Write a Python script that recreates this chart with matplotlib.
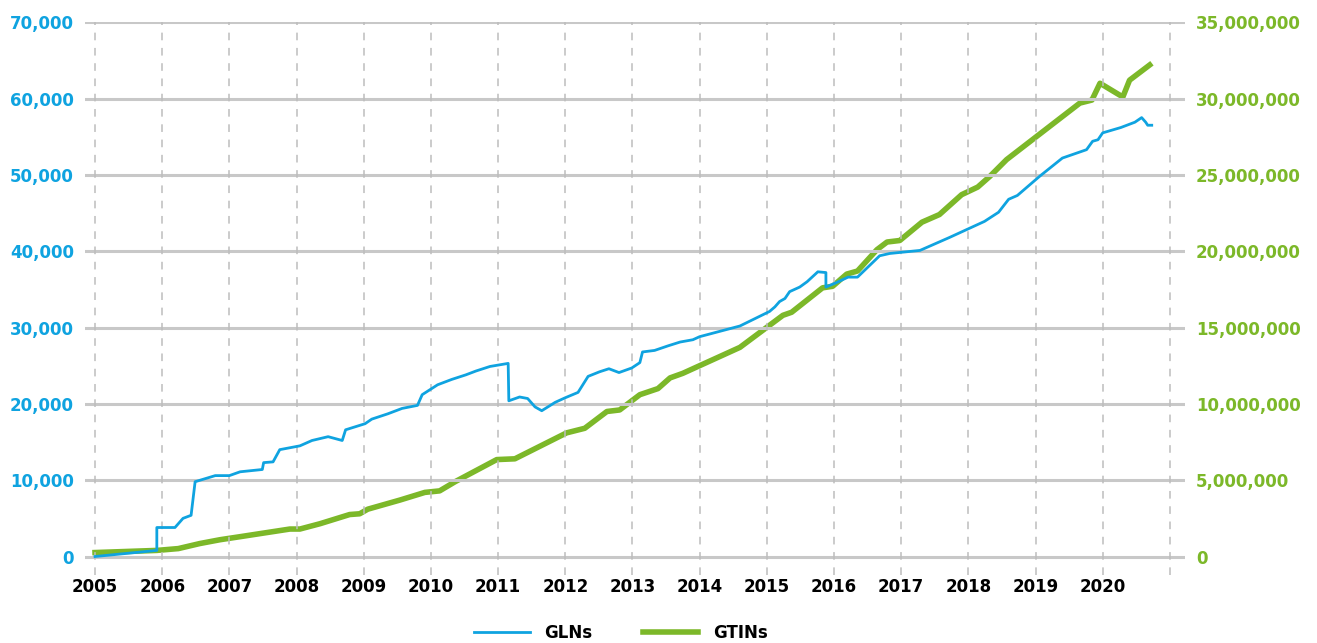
import matplotlib.pyplot as plt
from matplotlib.ticker import FuncFormatter

# GLN counts (left axis)
gln_t = [2005.0, 2005.92, 2005.92, 2006.19, 2006.31, 2006.43, 2006.49, 2006.79, 2007.0,
         2007.16, 2007.49, 2007.51, 2007.65, 2007.75, 2008.05, 2008.23, 2008.47, 2008.68,
         2008.73, 2009.02, 2009.12, 2009.36, 2009.57, 2009.80, 2009.87, 2010.10, 2010.31,
         2010.52, 2010.67, 2010.88, 2011.15, 2011.16, 2011.32, 2011.44, 2011.55, 2011.65,
         2011.85, 2012.0, 2012.19, 2012.34, 2012.51, 2012.65, 2012.80, 2012.99, 2013.11,
         2013.15, 2013.33, 2013.53, 2013.71, 2013.90, 2014.0, 2014.30, 2014.60, 2015.04,
         2015.12, 2015.19, 2015.27, 2015.34, 2015.49, 2015.60, 2015.76, 2015.88, 2015.88,
         2016.04, 2016.21, 2016.35, 2016.68, 2016.83, 2017.28, 2017.72, 2018.24, 2018.45,
         2018.60, 2018.73, 2019.06, 2019.40, 2019.76, 2019.85, 2019.93, 2020.0, 2020.27,
         2020.48, 2020.58, 2020.64, 2020.67, 2020.73]
gln_v = [0, 800, 3800, 3800, 5000, 5400, 9800, 10600, 10600,
         11100, 11400, 12300, 12400, 14000, 14500, 15200, 15700, 15200,
         16600, 17400, 18000, 18700, 19400, 19800, 21200, 22500, 23200,
         23800, 24300, 24900, 25300, 20400, 20900, 20700, 19600, 19100,
         20200, 20800, 21500, 23600, 24200, 24600, 24100, 24700, 25400,
         26800, 27000, 27600, 28100, 28400, 28800, 29500, 30200, 32100,
         32700, 33400, 33800, 34700, 35300, 36000, 37300, 37200, 35300,
         35900, 36600, 36600, 39400, 39700, 40100, 41800, 43900, 45100,
         46800, 47300, 49800, 52200, 53300, 54400, 54600, 55500, 56200,
         56900, 57500, 56900, 56500, 56500]

# GTIN counts (right axis)
gtin_t = [2005.0, 2005.92, 2006.24, 2006.56, 2006.86, 2007.16, 2007.90, 2008.05, 2008.35,
          2008.79, 2008.94, 2009.06, 2009.54, 2009.91, 2010.13, 2010.36, 2010.98, 2011.25,
          2012.02, 2012.29, 2012.62, 2012.81, 2013.11, 2013.38, 2013.56, 2013.75, 2014.30,
          2014.60, 2015.24, 2015.37, 2015.83, 2015.98, 2016.19, 2016.35, 2016.64, 2016.79,
          2016.98, 2017.31, 2017.57, 2017.90, 2018.14, 2018.32, 2018.57, 2019.66, 2019.84,
          2019.96, 2020.30, 2020.40, 2020.70]
gtin_v = [260000, 400000, 520000, 850000, 1100000, 1300000, 1800000, 1800000, 2150000,
          2750000, 2800000, 3100000, 3700000, 4200000, 4300000, 4900000, 6350000, 6400000,
          8100000, 8400000, 9500000, 9600000, 10600000, 11000000, 11700000, 12000000, 13100000,
          13700000, 15800000, 16000000, 17600000, 17700000, 18500000, 18700000, 20100000, 20600000,
          20700000, 21900000, 22400000, 23700000, 24200000, 24900000, 26000000, 29700000, 29900000,
          31000000, 30100000, 31200000, 32200000]

years = list(range(2005, 2021))
BLUE = '#0fa3e0'
GREEN = '#7cb829'

plt.rcParams['font.family'] = 'DejaVu Sans'
plt.rcParams['font.weight'] = 'bold'

fig = plt.figure(figsize=(13.17, 6.43), dpi=100)
ax = fig.add_axes([0.0645, 0.106, 0.835, 0.8595])
ax2 = ax.twinx()

for y in range(0, 70001, 10000):
    ax.axhline(y, color='#c8c8c8', lw=2.2, zorder=0)
for yr in range(2005, 2022):
    ax.axvline(yr, color='#bdbdbd', lw=1.1, ls=(0, (5, 5)), zorder=0)

l1, = ax.plot(gln_t, gln_v, color=BLUE, lw=2.0, zorder=3)
l2, = ax2.plot(gtin_t, gtin_v, color=GREEN, lw=4.0, zorder=2)

ax.set_xlim(2004.85, 2021.22)
ax.set_ylim(-2400, 70000)
ax2.set_ylim(-2400 * 500, 35000000)

ax.set_yticks(range(0, 70001, 10000))
ax2.set_yticks(range(0, 35000001, 5000000))
fmt = FuncFormatter(lambda v, p: f'{int(v):,}')
ax.yaxis.set_major_formatter(fmt)
ax2.yaxis.set_major_formatter(fmt)
ax.set_xticks(years)
ax.set_xticklabels([str(y) for y in years])

ax.tick_params(axis='y', length=0, pad=8, labelsize=12, labelcolor=BLUE)
ax2.tick_params(axis='y', length=0, pad=8, labelsize=12, labelcolor=GREEN)
ax.tick_params(axis='x', length=0, pad=2, labelsize=12, labelcolor='black')

for a in (ax, ax2):
    for s in a.spines.values():
        s.set_visible(False)
ax2.set_zorder(ax.get_zorder() - 1)
ax.patch.set_visible(False)

fig.legend([l1, l2], ['GLNs', 'GTINs'], loc='lower center', bbox_to_anchor=(0.4715, -0.022),
           ncol=2, frameon=False, handlelength=3.35, columnspacing=3.0, handletextpad=0.9,
           prop={'size': 12, 'weight': 'bold'})

fig.savefig('out.png', dpi=100)
